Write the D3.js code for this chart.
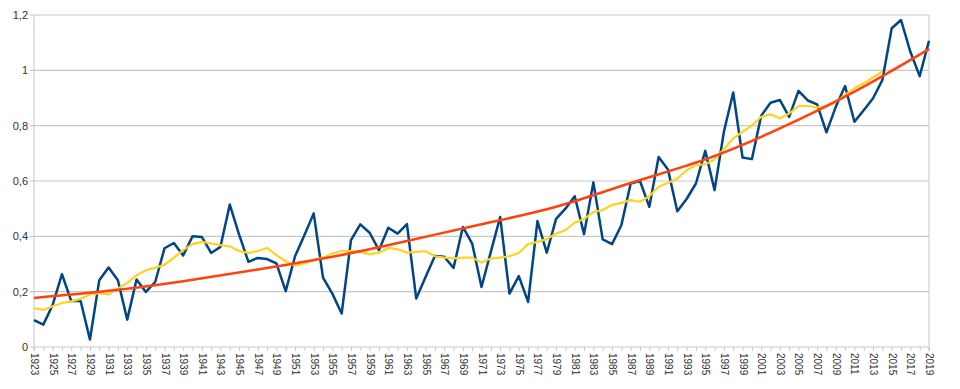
<!DOCTYPE html>
<html>
<head>
<meta charset="utf-8">
<script src="https://cdn.jsdelivr.net/npm/d3@7"></script>
<style>
	body { margin: 0; background: #fff; }
	.axis text { font-family: "Liberation Sans", Arial, sans-serif; font-size: 10px; fill: #333; }
	.axis path { display: none; }
</style>
</head>
<body>
<div id="chart"></div>
<script>

// Years 1923..2019
var years = d3.range(1923, 2020);

// Annual values (blue)
var annual = [0.097,0.081,0.152,0.263,0.166,0.166,0.027,0.241,0.287,0.241,
	0.099,0.244,0.199,0.235,0.357,0.376,0.331,0.400,0.398,0.340,
	0.362,0.515,0.406,0.308,0.322,0.318,0.302,0.202,0.328,0.404,
	0.483,0.251,0.193,0.121,0.386,0.443,0.413,0.350,0.431,0.410,
	0.444,0.175,0.253,0.329,0.326,0.286,0.434,0.374,0.217,0.344,
	0.470,0.193,0.256,0.163,0.455,0.341,0.463,0.500,0.545,0.408,
	0.595,0.389,0.372,0.440,0.591,0.600,0.507,0.687,0.642,0.491,
	0.535,0.591,0.709,0.567,0.778,0.920,0.685,0.679,0.836,0.883,
	0.893,0.832,0.926,0.891,0.877,0.776,0.868,0.943,0.814,0.856,
	0.899,0.965,1.152,1.182,1.067,0.979,1.107];

// Moving average (yellow), ends in 2014
var smooth = [0.140,0.134,0.147,0.159,0.165,0.174,0.190,0.195,0.190,0.211,
	0.232,0.259,0.277,0.287,0.297,0.323,0.350,0.372,0.380,0.374,
	0.368,0.364,0.347,0.340,0.347,0.358,0.332,0.310,0.294,0.302,
	0.314,0.323,0.338,0.347,0.347,0.344,0.335,0.341,0.358,0.353,
	0.341,0.344,0.346,0.328,0.323,0.320,0.323,0.323,0.305,0.320,
	0.323,0.328,0.340,0.372,0.380,0.390,0.410,0.422,0.450,0.462,
	0.488,0.495,0.513,0.521,0.531,0.525,0.545,0.579,0.593,0.609,
	0.639,0.657,0.660,0.678,0.715,0.754,0.778,0.800,0.832,0.841,
	0.826,0.844,0.871,0.871,0.866,0.871,0.886,0.911,0.935,0.953,
	0.975,0.995];

// Trend curve (orange), read every 8 years
var trendYears = [1923,1931,1939,1947,1955,1963,1971,1979,1987,1995,2003,2011,2019];
var trendValues = [0.177,0.203,0.238,0.280,0.326,0.383,0.444,0.507,0.593,0.678,0.790,0.923,1.077];

var yTicks = [0, 0.2, 0.4, 0.6, 0.8, 1, 1.2];

var margin = {top: 15, right: 31, bottom: 42, left: 34};
var width = 960 - margin.left - margin.right,
	height = 389 - margin.top - margin.bottom;

var svg = d3.select("#chart").append("svg")
	.attr("width", 960)
	.attr("height", 389)
	.append("g")
	.attr("transform", "translate(" + margin.left + "," + margin.top + ")");

var x = d3.scaleLinear()
	.domain([1923, 2019])
	.range([0, width]);

var y = d3.scaleLinear()
	.domain([0, 1.2])
	.range([height, 0]);

// Gridlines
svg.selectAll(".grid")
	.data(yTicks)
	.enter().append("line")
	.attr("class", "grid")
	.attr("x1", -4)
	.attr("x2", width)
	.attr("y1", function(d) { return y(d); })
	.attr("y2", function(d) { return y(d); })
	.style("stroke", "#c8c8c8")
	.style("stroke-width", 1.2);

// Frame sides
svg.append("line")
	.attr("x1", 0).attr("x2", 0)
	.attr("y1", 0).attr("y2", height + 4)
	.style("stroke", "#c8c8c8");
svg.append("line")
	.attr("x1", width).attr("x2", width)
	.attr("y1", 0).attr("y2", height + 4)
	.style("stroke", "#c8c8c8");

// Y axis labels
var yAxis = d3.axisLeft(y)
	.tickValues(yTicks)
	.tickSize(0)
	.tickPadding(6)
	.tickFormat(function(d) { return String(+d.toFixed(1)).replace(".", ","); });

svg.append("g")
	.attr("class", "y-axis axis")
	.call(yAxis)
	.selectAll("text")
	.style("font-size", "11px");

// X axis: tick every year, label every other year
var xAxis = d3.axisBottom(x)
	.tickValues(years)
	.tickSize(4)
	.tickFormat(function(d) { return (d - 1923) % 2 === 0 ? d : ""; });

var gx = svg.append("g")
	.attr("class", "x-axis axis")
	.attr("transform", "translate(0," + height + ")")
	.call(xAxis);

gx.selectAll("line").style("stroke", "#c8c8c8");

gx.selectAll("text")
	.attr("transform", "rotate(90)")
	.attr("x", 6)
	.attr("y", 0)
	.attr("dy", "0.35em")
	.style("text-anchor", "start");

// Lines
var line = d3.line()
	.defined(function(d) { return d[1] != null; })
	.x(function(d) { return x(d[0]); })
	.y(function(d) { return y(d[1]); });

svg.append("path")
	.datum(years.map(function(yr, i) { return [yr, annual[i]]; }))
	.attr("d", line)
	.style("fill", "none")
	.style("stroke", "#004586")
	.style("stroke-width", 2.5)
	.style("stroke-linejoin", "round");

svg.append("path")
	.datum(smooth.map(function(v, i) { return [years[i], v]; }))
	.attr("d", line)
	.style("fill", "none")
	.style("stroke", "#ffd320")
	.style("stroke-width", 2.2)
	.style("stroke-linejoin", "round");

var trendLine = d3.line()
	.curve(d3.curveNatural)
	.x(function(d) { return x(d[0]); })
	.y(function(d) { return y(d[1]); });

svg.append("path")
	.datum(trendYears.map(function(yr, i) { return [yr, trendValues[i]]; }))
	.attr("d", trendLine)
	.style("fill", "none")
	.style("stroke", "#ff420e")
	.style("stroke-width", 2.5);

</script>
</body>
</html>
